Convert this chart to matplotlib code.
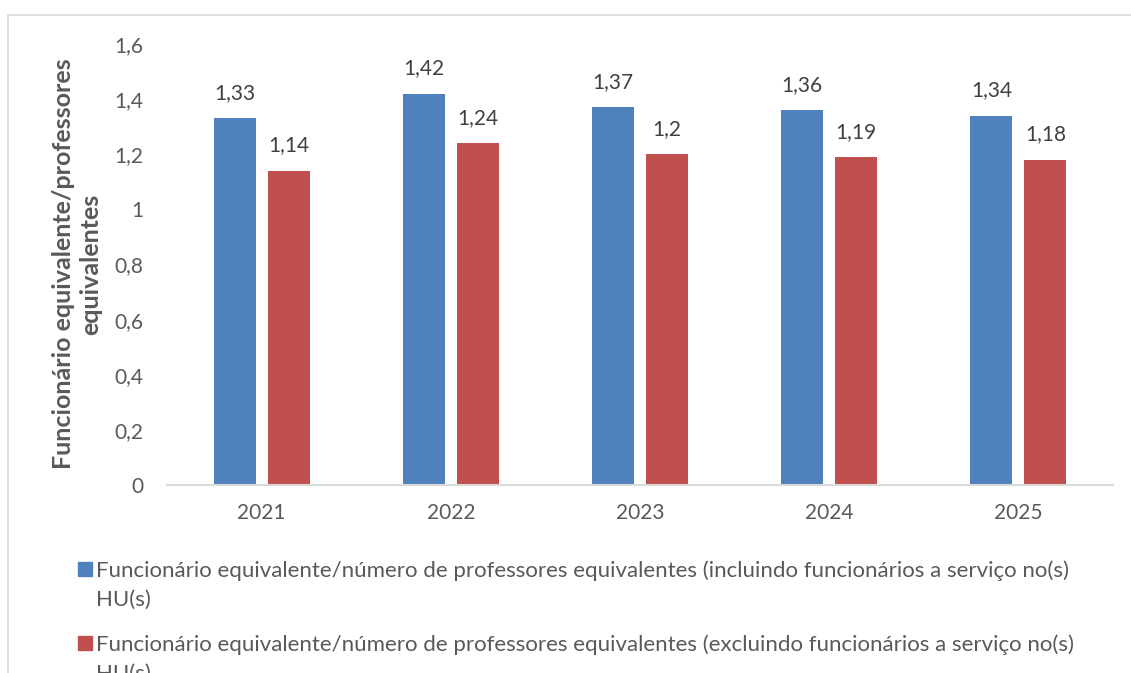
import matplotlib
matplotlib.use("Agg")
import matplotlib.pyplot as plt
from matplotlib.patches import Rectangle
import numpy as np

years = ["2021", "2022", "2023", "2024", "2025"]
incl_hu = [1.33, 1.42, 1.37, 1.36, 1.34]
excl_hu = [1.14, 1.24, 1.20, 1.19, 1.18]
incl_labels = ["1,33", "1,42", "1,37", "1,36", "1,34"]
excl_labels = ["1,14", "1,24", "1,2", "1,19", "1,18"]
yticks = [0, 0.2, 0.4, 0.6, 0.8, 1.0, 1.2, 1.4, 1.6]
ytick_labels = ["0", "0,2", "0,4", "0,6", "0,8", "1", "1,2", "1,4", "1,6"]
series_names = [
    "Funcionário equivalente/número de professores equivalentes (incluindo funcionários a serviço no(s)\nHU(s)",
    "Funcionário equivalente/número de professores equivalentes (excluindo funcionários a serviço no(s)\nHU(s)",
]
ylabel = "Funcionário equivalente/professores\nequivalentes"

BLUE = "#4f81bd"
RED = "#c0504d"
TXT = "#595959"
FONT = ["Lato", "DejaVu Sans"]

plt.rcParams["font.family"] = FONT

W, H = 1131, 673
fig = plt.figure(figsize=(W / 100, H / 100), dpi=100)
ax = fig.add_axes([167 / W, 1 - 485 / H, (1113 - 167) / W, (485 - 44) / H])

x = np.arange(len(years))
bw = 0.222
gap = 0.063
off = (bw + gap) / 2
b1 = ax.bar(x - off, incl_hu, bw, color=BLUE)
b2 = ax.bar(x + off, excl_hu, bw, color=RED)

for bars, labs in ((b1, incl_labels), (b2, excl_labels)):
    for r, lab in zip(bars, labs):
        ax.annotate(lab, (r.get_x() + r.get_width() / 2, r.get_height()),
                    xytext=(0, 11), textcoords="offset points",
                    ha="center", va="bottom", fontsize=15, color="#404040")

ax.set_xlim(-0.5, len(years) - 0.5)
ax.set_ylim(0, 1.6)
ax.set_xticks(x)
ax.set_xticklabels(years)
ax.set_yticks(yticks)
ax.set_yticklabels(ytick_labels)
ax.tick_params(axis="both", length=0, labelsize=15, colors=TXT)
ax.tick_params(axis="y", pad=17)
ax.tick_params(axis="x", pad=13)
for s in ("top", "right", "left"):
    ax.spines[s].set_visible(False)
ax.spines["bottom"].set_color("#d9d9d9")
ax.spines["bottom"].set_linewidth(1.5)

fig.text(77 / W, 1 - 264 / H, ylabel, rotation=90, ha="center", va="center",
         fontsize=18, fontweight="bold", color=TXT, linespacing=1.25)

# chart frame
fig.patches.append(Rectangle((8 / W, -0.1), 1.2, 1 - 15 / H + 0.1,
                             transform=fig.transFigure, fill=False,
                             edgecolor="#d9d9d9", linewidth=1.2))

# legend
colors = [BLUE, RED]
baselines = [577, 651]
line_step = 29
for name, c, yb in zip(series_names, colors, baselines):
    fig.patches.append(Rectangle((78 / W, 1 - (yb - 1) / H), 14 / W, 14 / H,
                                 transform=fig.transFigure, color=c))
    for i, line in enumerate(name.split("\n")):
        fig.text(96 / W, 1 - (yb + i * line_step) / H, line, ha="left",
                 va="baseline", fontsize=16, color=TXT)

fig.savefig("out.png", dpi=100)
